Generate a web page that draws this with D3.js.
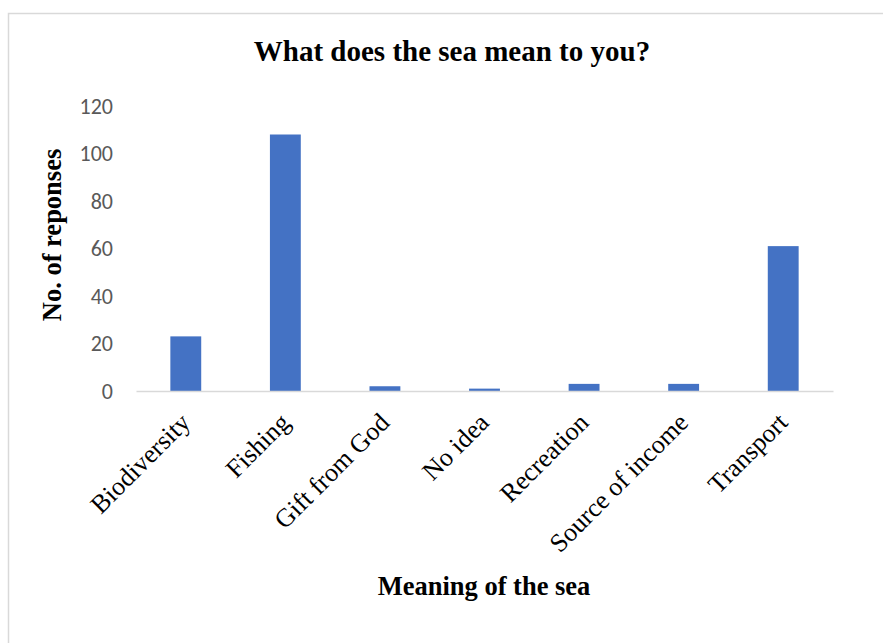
<!DOCTYPE html>
<html>
<head>
<meta charset="utf-8">
<script src="https://cdn.jsdelivr.net/npm/d3@7"></script>
<style>
  html, body { margin: 0; padding: 0; background: #fff; }
  svg { display: block; }
</style>
</head>
<body>
<svg id="chart" width="883" height="643"></svg>
<script>
const categories = ["Biodiversity", "Fishing", "Gift from God", "No idea", "Recreation", "Source of income", "Transport"];
const values = [23, 108, 2, 1, 3, 3, 61];
const yTicks = [0, 20, 40, 60, 80, 100, 120];
const title = "What does the sea mean to you?";
const xTitle = "Meaning of the sea";
const yTitle = "No. of reponses";

const svg = d3.select("#chart");
const W = 883, H = 643;
const margin = { left: 136, right: 50, top: 106, bottom: 252 };
const plotW = W - margin.left - margin.right;
const plotH = H - margin.top - margin.bottom;

svg.append("rect").attr("x", 0).attr("y", 0).attr("width", W).attr("height", H).attr("fill", "#fff");
// chart border
svg.append("rect")
  .attr("x", 8.5).attr("y", 13.5)
  .attr("width", W + 10).attr("height", H + 10)
  .attr("fill", "none").attr("stroke", "#d9d9d9").attr("stroke-width", 1.5);

const x = d3.scaleBand().domain(categories).range([0, plotW]).paddingInner(0.69).paddingOuter(0.345);
const y = d3.scaleLinear().domain([0, 120]).range([plotH, 0]);

const g = svg.append("g").attr("transform", `translate(${margin.left},${margin.top})`);

// bars
g.selectAll("rect.bar").data(categories).enter().append("rect")
  .attr("class", "bar")
  .attr("x", d => x(d))
  .attr("width", x.bandwidth())
  .attr("y", (d, i) => y(values[i]))
  .attr("height", (d, i) => y(0) - y(values[i]))
  .attr("fill", "#4472c4");

// y axis
const yAxis = g.append("g").call(d3.axisLeft(y).tickValues(yTicks).tickSize(0).tickPadding(23));
yAxis.select(".domain").remove();
yAxis.selectAll("text")
  .attr("fill", "#595959")
  .style("font-family", "Carlito, Calibri, 'Open Sans', 'Liberation Sans', sans-serif")
  .style("font-size", "22px");

// x axis
const xAxis = g.append("g").attr("transform", `translate(0,${plotH})`)
  .call(d3.axisBottom(x).tickSize(0).tickPadding(0));
xAxis.select(".domain").attr("stroke", "#d9d9d9").attr("stroke-width", 1.5);
xAxis.selectAll("text")
  .attr("fill", "#000")
  .style("font-family", "'Liberation Serif', 'Times New Roman', serif")
  .style("font-size", "26px")
  .attr("text-anchor", "end")
  .attr("dy", null)
  .attr("y", null)
  .attr("transform", "translate(6,33) rotate(-45)");

// title
svg.append("text")
  .attr("x", 452).attr("y", 61)
  .attr("text-anchor", "middle")
  .style("font-family", "'Liberation Serif', 'Times New Roman', serif")
  .style("font-weight", "bold")
  .style("font-size", "29px")
  .text(title);

// x title
svg.append("text")
  .attr("x", 484).attr("y", 595)
  .attr("text-anchor", "middle")
  .style("font-family", "'Liberation Serif', 'Times New Roman', serif")
  .style("font-weight", "bold")
  .style("font-size", "26.5px")
  .text(xTitle);

// y title
svg.append("text")
  .attr("transform", `translate(61,235) rotate(-90)`)
  .attr("text-anchor", "middle")
  .style("font-family", "'Liberation Serif', 'Times New Roman', serif")
  .style("font-weight", "bold")
  .style("font-size", "26.5px")
  .text(yTitle);
</script>
</body>
</html>
